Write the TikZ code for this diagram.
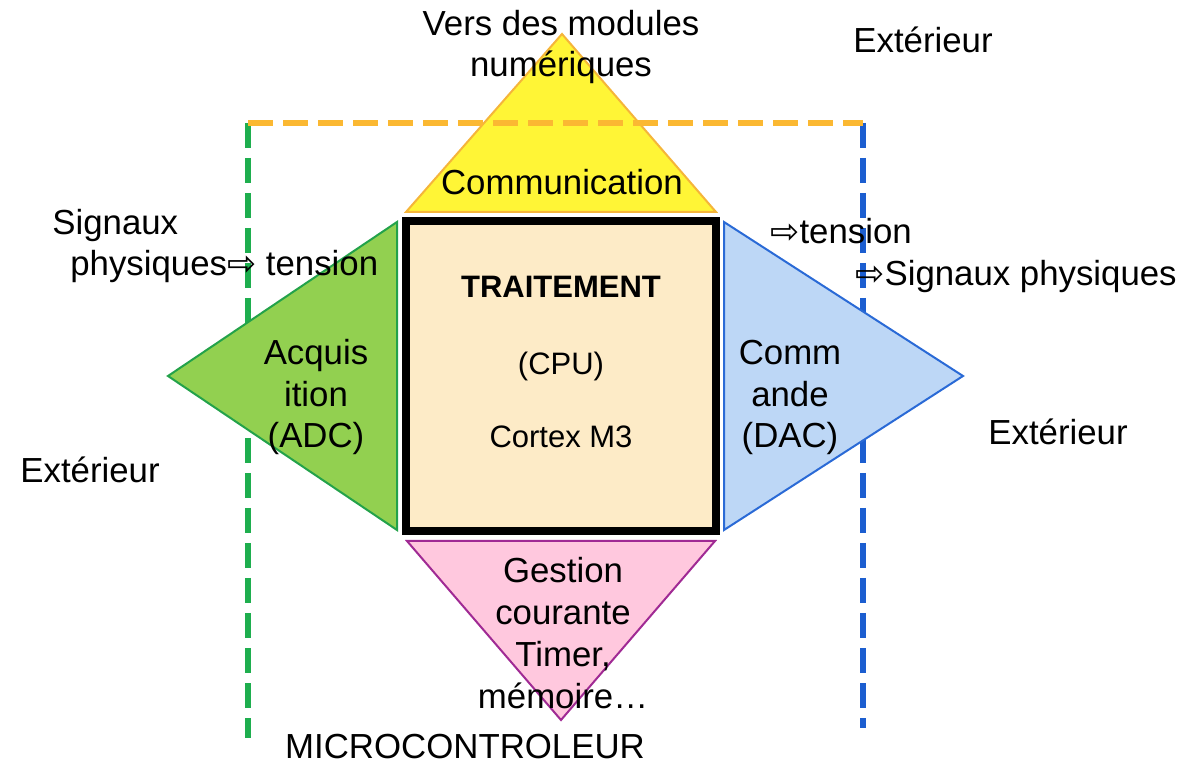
\documentclass[tikz,border=0pt]{standalone}
\usepackage{fontspec}
\setmainfont{Liberation Sans}
\newfontfamily\arrowfont{DejaVu Sans}
\newcommand{\fleche}{{\arrowfont ⇨}}
\definecolor{cpufill}{HTML}{FDEBC7}
\definecolor{comfill}{HTML}{FFF536}
\definecolor{comline}{HTML}{F5B53A}
\definecolor{acqfill}{HTML}{92D050}
\definecolor{acqline}{HTML}{23A24A}
\definecolor{cmdfill}{HTML}{BDD7F6}
\definecolor{cmdline}{HTML}{2A6AD6}
\definecolor{gesfill}{HTML}{FFC8DE}
\definecolor{gesline}{HTML}{A02A94}
\definecolor{dashorange}{HTML}{FBB832}
\definecolor{dashgreen}{HTML}{1EAE4E}
\definecolor{dashblue}{HTML}{1C5ED0}
\begin{document}
\begin{tikzpicture}[
    x=0.5pt, y=-0.5pt,
    lbl/.style={anchor=base, align=center, inner sep=0pt, font=\fontsize{17.4}{20.9}\selectfont},
    cpulbl/.style={anchor=base, inner sep=0pt, font=\fontsize{15.5}{19}\selectfont},
    frontier/.style={line width=3pt, dash pattern=on 12.5pt off 5pt},
    tri/.style={line width=1pt, line join=miter},
    cpu/.style={draw, line width=4pt, fill=cpufill, minimum size=155pt, inner sep=0pt}
]
    \useasboundingbox (0,0) rectangle (1184,764);

    % limites du microcontroleur
    \draw[frontier, dashgreen] (248,123) -- (248,738);
    \draw[frontier, dashblue] (863,123) -- (863,728);

    % les quatre blocs
    \draw[tri, draw=comline, fill=comfill] (406,212) -- (562,34) -- (716,212) -- cycle;
    \draw[tri, draw=acqline, fill=acqfill] (397,222) -- (168,376) -- (397,530) -- cycle;
    \draw[tri, draw=cmdline, fill=cmdfill] (724,222) -- (963,376) -- (724,530) -- cycle;
    \draw[tri, draw=gesline, fill=gesfill] (407,541) -- (561,720) -- (715,541) -- cycle;
    \draw[frontier, dashorange] (248,123) -- (863,123);

    \node[cpu] (cpu) at (561,376) {};
    \node[cpulbl, font=\fontsize{15.5}{19}\selectfont\bfseries] (trait) at (561,298) {TRAITEMENT};
    \node[cpulbl] (cpuname) at (561,375) {(CPU)};
    \node[cpulbl] (cortex) at (561,448) {Cortex M3};

    % base = derniere ligne
    \node[lbl] (com) at (562,195) {Communication};
    \node[lbl] (acq) at (316,448) {Acquis\\ition\\(ADC)};
    \node[lbl] (cmd) at (790,448) {Comm\\ande\\(DAC)};
    \node[lbl] (ges) at (563,708) {Gestion\\courante\\Timer,\\mémoire…};

    % textes exterieurs
    \node[lbl] (vers) at (561,77) {Vers des modules\\numériques};
    \node[lbl, anchor=base west] (extn) at (853,53) {Extérieur};
    \node[lbl, anchor=base west] (sig) at (52,235) {Signaux};
    \node[lbl, anchor=base west] (phys) at (70,276) {physiques\fleche{} tension};
    \node[lbl, anchor=base west] (exto) at (20,483) {Extérieur};
    \node[lbl, anchor=base west] (tens) at (770,244) {\fleche tension};
    \node[lbl, anchor=base west] (sigout) at (855,286) {\fleche Signaux physiques};
    \node[lbl, anchor=base west] (exte) at (988,445) {Extérieur};
    \node[lbl] (mcu) at (465,758) {MICROCONTROLEUR};
\end{tikzpicture}
\end{document}
